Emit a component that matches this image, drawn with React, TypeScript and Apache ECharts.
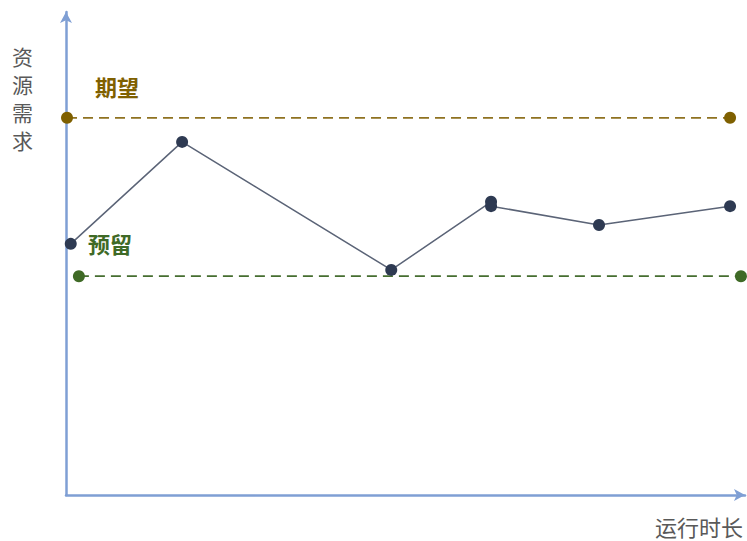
import React, { useEffect, useRef } from "react";
import * as echarts from "echarts";

// Data (x: run time, y: resource demand), arbitrary units 0-100
const demandX = [0.7, 17.1, 47.9, 62.6, 62.6, 78.5, 97.8];
const demandY = [52.0, 73.1, 46.6, 60.7, 59.8, 55.9, 59.8];
const expectedX = [0.15, 97.8];
const expectedY = [78.1, 78.1];
const reserveX = [1.9, 99.4];
const reserveY = [45.3, 45.3];
const labels = { expected: "期望", reserve: "预留", xName: "运行时长", yName: "资源需求" };

const zip = (xs: number[], ys: number[]) => xs.map((x, i) => [x, ys[i]]);

export default function App() {
  const ref = useRef<HTMLDivElement>(null);
  useEffect(() => {
    document.body.style.margin = "0";
    const chart = echarts.init(ref.current!, undefined, { renderer: "svg" });
    const axisColor = "#7f9fd4";
    const gold = "#7f6000";
    const green = "#3f6a26";
    const font = "'Noto Sans CJK SC', sans-serif";
    const yChars = labels.yName.split("").map((ch, i) => ({
      type: "text",
      left: 12,
      top: 45 + i * 28,
      style: { text: ch, fill: "#595959", font: `21px ${font}`, lineHeight: 22 },
    }));
    chart.setOption({
      animation: false,
      backgroundColor: "#ffffff",
      grid: { left: 66, right: 2, top: 12, bottom: 46 },
      xAxis: {
        type: "value",
        min: 0,
        max: 100,
        axisLine: { show: true, lineStyle: { color: axisColor, width: 2.5 }, symbol: ["none", "arrow"], symbolSize: [9, 11] },
        axisTick: { show: false },
        axisLabel: { show: false },
        splitLine: { show: false },
      },
      yAxis: {
        type: "value",
        min: 0,
        max: 100,
        axisLine: { show: true, lineStyle: { color: axisColor, width: 2.5 }, symbol: ["none", "arrow"], symbolSize: [9, 11] },
        axisTick: { show: false },
        axisLabel: { show: false },
        splitLine: { show: false },
      },
      series: [
        {
          type: "line",
          data: zip(expectedX, expectedY),
          symbol: "circle",
          symbolSize: 12,
          itemStyle: { color: gold },
          lineStyle: { color: "#8f7220", width: 1.8, type: [10, 6] },
          z: 3,
        },
        {
          type: "line",
          data: zip(reserveX, reserveY),
          symbol: "circle",
          symbolSize: 12,
          itemStyle: { color: green },
          lineStyle: { color: "#466e30", width: 1.8, type: [10, 6] },
          z: 3,
        },
        {
          type: "line",
          data: zip(demandX, demandY),
          symbol: "circle",
          symbolSize: 12,
          itemStyle: { color: "#2e3a52" },
          lineStyle: { color: "#5b6477", width: 1.5 },
          z: 4,
        },
      ],
      graphic: [
        {
          type: "text",
          left: 95,
          top: 75,
          style: { text: labels.expected, fill: gold, font: `bold 22px ${font}` },
        },
        {
          type: "text",
          left: 88,
          top: 232,
          style: { text: labels.reserve, fill: green, font: `bold 22px ${font}` },
        },
        {
          type: "text",
          left: 655,
          top: 515,
          style: { text: labels.xName, fill: "#595959", font: `22px ${font}` },
        },
        ...yChars,
      ],
    });
    return () => chart.dispose();
  }, []);
  return <div ref={ref} style={{ width: 747, height: 541 }} />;
}
